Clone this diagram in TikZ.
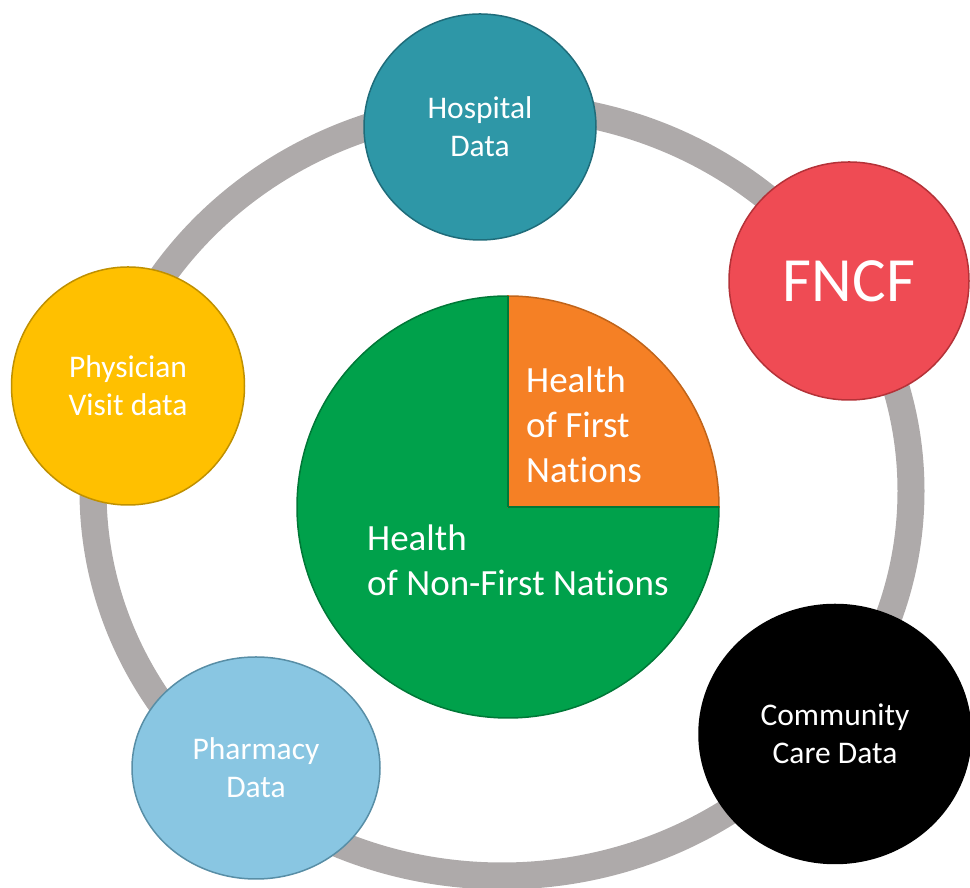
\documentclass[tikz,border=0pt]{standalone}
\usepackage{fontspec}
\setmainfont{Carlito}[Ligatures=NoCommon]
\definecolor{ringgray}{RGB}{174,170,170}
\definecolor{hospteal}{RGB}{46,151,167}
\definecolor{hospedge}{RGB}{31,108,122}
\definecolor{fncfred}{RGB}{239,75,84}
\definecolor{fncfedge}{RGB}{180,50,56}
\definecolor{physgold}{RGB}{255,192,0}
\definecolor{physedge}{RGB}{191,144,0}
\definecolor{pharmblue}{RGB}{137,198,226}
\definecolor{pharmedge}{RGB}{88,142,166}
\definecolor{nonfngreen}{RGB}{0,161,75}
\definecolor{nonfnedge}{RGB}{0,120,55}
\definecolor{fnorange}{RGB}{245,128,37}
\definecolor{fnedge}{RGB}{192,100,26}
\usetikzlibrary{shapes.geometric}

\begin{document}
\begin{tikzpicture}[x=1pt, y=1pt,
    every node/.style={font=\fontsize{31.5}{38}\selectfont, text=white},
    datacircle/.style={ellipse, inner sep=0pt, line width=1.5pt, align=center},
    pietext/.style={font=\fontsize{37}{45}\selectfont, align=left, inner sep=0pt}]
    \useasboundingbox (0,0) rectangle (970,888);
    % grey ring behind the data sources
    \node[ellipse, draw=ringgray, line width=27pt, minimum width=818pt, minimum height=770pt] (ring) at (502,397) {};
    \foreach \name/\px/\py/\w/\h/\col/\edgecol/\srctext in {
        hospital/480/761/232/226/hospteal/hospedge/{Hospital\\Data},
        physician/128/502/233/238/physgold/physedge/{Physician\\Visit data},
        pharmacy/256/120/248/222/pharmblue/pharmedge/{Pharmacy\\Data},
        community/835/154/272/259/black/black/{Community\\Care Data}%
    } {
        \node[datacircle, fill=\col, draw=\edgecol, minimum width=\w pt, minimum height=\h pt] (\name) at (\px,\py) {\srctext};
    }
    \node[datacircle, fill=fncfred, draw=fncfedge, minimum width=240pt, minimum height=238pt,
        font=\fontsize{63}{72}\selectfont] (fncf) at (849,607) {FNCF};
    % pie in the middle
    \coordinate (piecenter) at (508,381);
    \filldraw[fill=nonfngreen, draw=nonfnedge, line width=1.5pt] (piecenter) -- ++(0,211)
        arc[start angle=90, end angle=360, radius=211] -- cycle;
    \filldraw[fill=fnorange, draw=fnedge, line width=1.5pt] (piecenter) -- ++(211,0)
        arc[start angle=0, end angle=90, radius=211] -- cycle;
    \draw[nonfnedge, line width=1.5pt] (piecenter) -- ++(0,211);
    \draw[nonfnedge, line width=1.5pt] (piecenter) -- ++(211,0);
    \node[pietext, anchor=west] (fnlabel) at (526,463) {Health\\of First\\Nat\kern0pt ions};
    \node[pietext, anchor=west] (nonfnlabel) at (367,328) {Health\\of Non-First Nat\kern0pt ions};
\end{tikzpicture}
\end{document}
